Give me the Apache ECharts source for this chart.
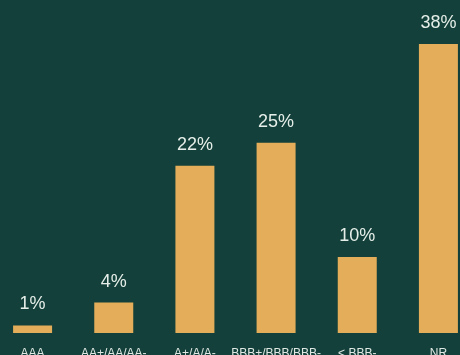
<!DOCTYPE html>
<html><head><meta charset="utf-8">
<script src="https://cdn.jsdelivr.net/npm/echarts@6/dist/echarts.min.js"></script>
<style>html,body{margin:0;padding:0;background:#13403a;overflow:hidden;}#c{width:487px;height:355px;margin-left:-8px;}</style>
</head><body><div id="c"></div>
<script>
const categories = ['AAA', 'AA+/AA/AA-', 'A+/A/A-', 'BBB+/BBB/BBB-', '< BBB-', 'NR'];
const values = [1, 4, 22, 25, 10, 38];
const chart = echarts.init(document.getElementById('c'));
chart.setOption({
  backgroundColor: '#13403a',
  animation: false,
  grid: { left: 0, right: 0, top: 44, bottom: 22, containLabel: false, outerBoundsMode: 'none' },
  xAxis: {
    type: 'category', data: categories,
    axisLine: { show: false }, axisTick: { show: false },
    axisLabel: { color: '#dfe8e3', fontSize: 12, margin: 15, interval: 0, fontFamily: 'Liberation Sans' }
  },
  yAxis: { type: 'value', min: 0, max: 38, show: false, splitLine: { show: false } },
  series: [{
    type: 'bar', data: values, barWidth: 39,
    itemStyle: { color: '#e3ad59' },
    label: { show: true, position: 'top', distance: 12, formatter: '{c}%', color: '#e6eee9', fontSize: 18, fontFamily: 'Liberation Sans' }
  }]
});
</script></body></html>
